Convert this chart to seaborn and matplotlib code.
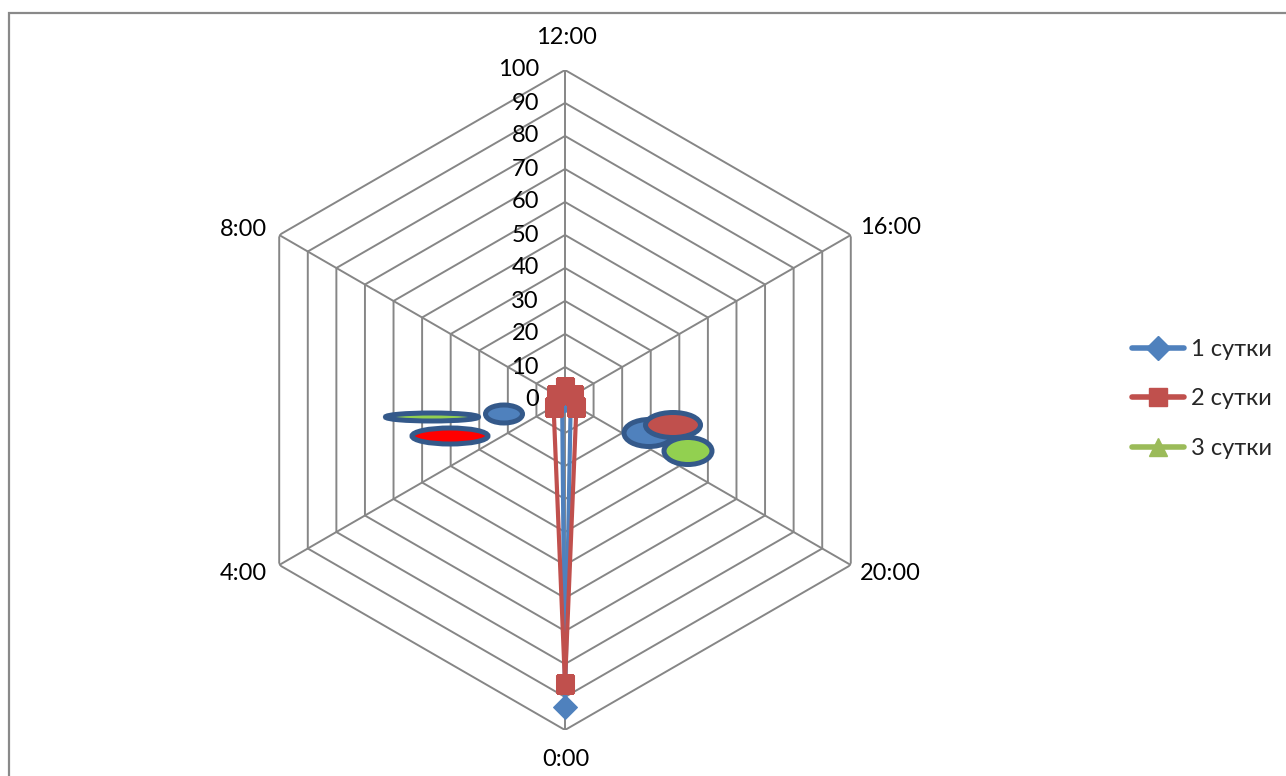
import numpy as np
import matplotlib
matplotlib.use("Agg")
import matplotlib.pyplot as plt
from matplotlib.patches import Ellipse, Rectangle
from matplotlib.lines import Line2D
import seaborn as sns

# ---------------- data ----------------
categories = ["12:00", "16:00", "20:00", "0:00", "4:00", "8:00"]
series_names = ["1 сутки", "2 сутки", "3 сутки"]
day1 = [0, 1, 2, 93, 1, 0]
day2 = [4, 3, 4, 86, 4, 3]
day3 = [np.nan, np.nan, np.nan, np.nan, np.nan, np.nan]
radial_ticks = [0, 10, 20, 30, 40, 50, 60, 70, 80, 90, 100]

colors = ["#4F81BD", "#C0504D", "#9BBB59"]
markers = ["D", "s", "^"]

sns.set_theme(style="white")
plt.rcParams["font.family"] = ["Lato", "DejaVu Sans"]

W, H = 1286, 776
fig = plt.figure(figsize=(W / 100, H / 100), dpi=100)

cx, cy, R = 565, 400, 330
ax = fig.add_axes([(cx - R) / W, (H - cy - R) / H, 2 * R / W, 2 * R / H], projection="polar")
ax.set_theta_zero_location("N")
ax.set_theta_direction(-1)
ax.set_ylim(0, 100)
ax.grid(False)
ax.spines["polar"].set_visible(False)
ax.set_xticks([])
ax.set_yticks([])
ax.patch.set_alpha(0)

n = len(categories)
theta = np.arange(n) * 2 * np.pi / n
theta_c = np.append(theta, theta[0] + 2 * np.pi)

grid_col = "#868686"
for r in radial_ticks[1:]:
    ax.plot(theta_c, [r] * (n + 1), color=grid_col, lw=1.4, zorder=1)
for t in theta:
    ax.plot([t, t], [0, 100], color=grid_col, lw=1.4, zorder=1)

FS = 17
# radial labels
for r in radial_ticks:
    ax.annotate(str(r), xy=(0, r), xytext=(-26, 0), textcoords="offset pixels",
                ha="right", va="center", fontsize=FS, color="black")

# category labels
offsets = [(1, 32, "center"), (9, 7, "left"), (9, -8, "left"),
           (1, -30, "center"), (-12, -8, "right"), (-12, 6, "right")]
for t, lab, (dx, dy, ha) in zip(theta, categories, offsets):
    ax.annotate(lab, xy=(t, 100), xytext=(dx, dy), textcoords="offset pixels",
                ha=ha, va="center", fontsize=FS, color="black")

# series
all_series = [day1, day2, day3]
handles = []
for name, vals, col, mk, z in zip(series_names, all_series, colors, markers, [3, 4, 5]):
    v = np.append(vals, vals[0])
    if not np.all(np.isnan(v)):
        sns.lineplot(x=theta_c, y=v, ax=ax, sort=False, estimator=None, color=col,
                     marker=mk, markersize=13 if mk != "D" else 12, markeredgecolor=col,
                     linewidth=3, zorder=z, legend=False)
    handles.append(Line2D([0], [0], color=col, lw=4, marker=mk,
                          markersize=13 if mk != "D" else 12,
                          markeredgecolor=col, solid_capstyle="round", label=name))

fig.legend(handles=handles, loc="center left", bbox_to_anchor=(1120 / W, 1 - 399 / H),
           frameon=False, fontsize=FS, handlelength=2.2, handletextpad=0.3,
           labelspacing=1.2, borderpad=0)

# hand-drawn ellipse shapes on top of the chart (figure pixel coords)
shape_x = [504, 432, 450, 649, 673, 688]
shape_y = [414, 417, 436, 433, 425, 451]
shape_w = [37, 93, 76, 50, 55, 48]
shape_h = [18, 8, 16, 27, 25, 27]
shape_fill = ["#4F81BD", "#92D050", "#FF0000", "#4F81BD", "#C0504D", "#92D050"]
edge = "#34598A"
for x, y, w, h, fc in zip(shape_x, shape_y, shape_w, shape_h, shape_fill):
    e = Ellipse((x / W, 1 - y / H), w / W, h / H, transform=fig.transFigure,
                facecolor=fc, edgecolor=edge, lw=3.6, zorder=10)
    fig.add_artist(e)

# chart area border (cropped)
fig.add_artist(Rectangle((9 / W, -0.2), 1.5, 1.2 - 13 / H, transform=fig.transFigure,
                         fill=False, edgecolor="#898989", lw=1.6))

fig.savefig("out.png", dpi=100)
